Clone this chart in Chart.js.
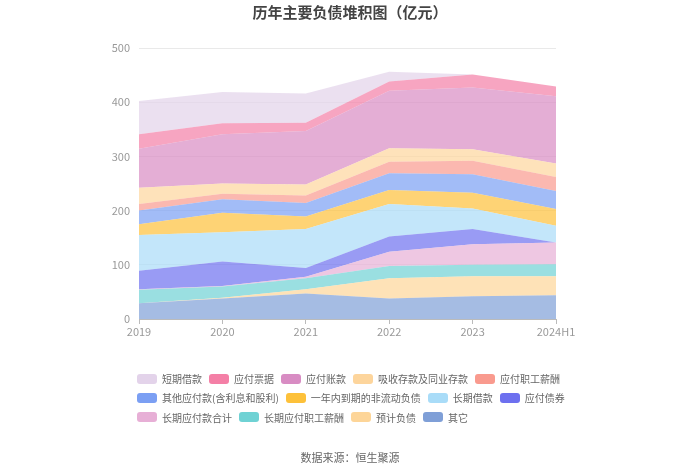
<!DOCTYPE html>
<html>
<head>
<meta charset="utf-8">
<script src="https://cdn.jsdelivr.net/npm/chart.js@4/dist/chart.umd.min.js"></script>
<style>
  html, body { margin: 0; padding: 0; background: #fff; }
  #wrap { position: relative; width: 700px; height: 474px; font-family: "Noto Sans CJK SC", "Noto Sans", sans-serif; }
  #c { position: absolute; left: 0; top: 0; }
  #legend { position: absolute; left: 137px; top: 369px; width: 450px; display: flex; flex-wrap: wrap; }
  .item { display: flex; align-items: center; height: 19.3px; margin-right: 7px; font-size: 10px; color: #666; white-space: nowrap; }
  .box { width: 20px; height: 10px; border-radius: 3px; margin-right: 5px; }
  #source { position: absolute; left: 0; width: 700px; top: 449px; text-align: center; font-size: 11px; color: #666; }
</style>
</head>
<body>
<div id="wrap">
  <canvas id="c" width="700" height="474"></canvas>
  <div id="legend"></div>
  <div id="source">数据来源：恒生聚源</div>
</div>
<script>
// ---- data (values in 亿元) ----
const categories = ['2019', '2020', '2021', '2022', '2023', '2024H1'];
const yTicks = [0, 100, 200, 300, 400, 500];

const shortTermLoans      = [61, 58, 54, 18, 0, 0];      // 短期借款
const notesPayable        = [27, 20, 15, 17, 24, 18];    // 应付票据
const accountsPayable     = [72, 91, 99, 106, 114, 124]; // 应付账款
const deposits            = [30, 19, 20, 25, 21, 25];    // 吸收存款及同业存款
const payrollPayable      = [12, 10, 14, 21, 25, 26];    // 应付职工薪酬
const otherPayables       = [25, 25, 25, 31, 34, 33];    // 其他应付款(含利息和股利)
const currentNonCurrent   = [20, 36, 23, 26, 29, 31];    // 一年内到期的非流动负债
const longTermLoans       = [66, 54, 72, 60, 38, 31];    // 长期借款
const bondsPayable        = [34, 45, 16, 28, 28, 0];     // 应付债券
const longTermPayables    = [1, 1, 3, 26, 38, 40];       // 长期应付款合计
const longTermPayroll     = [25, 21, 20, 23, 21, 22];    // 长期应付职工薪酬
const provisions          = [0, 1, 8, 37, 37, 35];       // 预计负债
const others              = [29, 38, 47, 38, 42, 44];    // 其它

// legend order (top of stack first)
const seriesNames = ['短期借款', '应付票据', '应付账款', '吸收存款及同业存款', '应付职工薪酬',
  '其他应付款(含利息和股利)', '一年内到期的非流动负债', '长期借款', '应付债券',
  '长期应付款合计', '长期应付职工薪酬', '预计负债', '其它'];
const seriesValues = [shortTermLoans, notesPayable, accountsPayable, deposits, payrollPayable,
  otherPayables, currentNonCurrent, longTermLoans, bondsPayable,
  longTermPayables, longTermPayroll, provisions, others];
const seriesColors = ['#e3d3ea', '#f47fa6', '#d88cc3', '#fdd59c', '#f99a8e',
  '#7b9ff3', '#fdc13a', '#a9dcf8', '#6d70ef',
  '#e7afd6', '#6fd2d4', '#fdd598', '#7f9fd7'];

function alpha(hex, a) {
  const r = parseInt(hex.slice(1, 3), 16), g = parseInt(hex.slice(3, 5), 16), b = parseInt(hex.slice(5, 7), 16);
  return `rgba(${r},${g},${b},${a})`;
}

// datasets bottom-up for stacking
const datasets = [];
for (let i = seriesNames.length - 1; i >= 0; i--) {
  datasets.push({
    label: seriesNames[i],
    data: seriesValues[i],
    backgroundColor: alpha(seriesColors[i], 0.7),
    borderColor: 'rgba(0,0,0,0)',
    borderWidth: 0,
    pointRadius: 0,
    tension: 0,
    fill: datasets.length === 0 ? 'origin' : '-1'
  });
}

// HTML legend
const legendEl = document.getElementById('legend');
seriesNames.forEach((n, i) => {
  const it = document.createElement('div');
  it.className = 'item';
  const b = document.createElement('span');
  b.className = 'box';
  b.style.background = seriesColors[i];
  const t = document.createElement('span');
  t.textContent = n;
  it.appendChild(b); it.appendChild(t);
  legendEl.appendChild(it);
});

Chart.defaults.font.family = '"Noto Sans CJK SC", "Noto Sans", sans-serif';

new Chart(document.getElementById('c'), {
  type: 'line',
  data: { labels: categories, datasets },
  options: {
    responsive: false,
    animation: false,
    devicePixelRatio: 1,
    layout: { padding: { left: 0, right: 0, top: 0, bottom: 125 } },
    plugins: {
      legend: { display: false },
      tooltip: { enabled: false },
      title: {
        display: true,
        text: '历年主要负债堆积图（亿元）',
        color: '#444',
        font: { size: 15, weight: 'bold' },
        padding: { top: 3, bottom: 27 }
      }
    },
    scales: {
      x: {
        offset: false,
        grid: { display: true, drawOnChartArea: false, drawTicks: true, tickLength: 5, color: '#bbb' },
        border: { display: true, color: '#bbb' },
        ticks: { color: '#999', font: { size: 11 }, padding: 1, maxRotation: 0, autoSkip: false },
        afterFit: s => { s.height = 30; }
      },
      y: {
        stacked: true,
        min: yTicks[0],
        max: yTicks[yTicks.length - 1],
        afterBuildTicks: s => { s.ticks = yTicks.map(v => ({ value: v })); },
        grid: { color: '#e9e9e9', drawTicks: false },
        border: { display: false },
        ticks: { color: '#999', font: { size: 11 }, padding: 9 },
        afterFit: s => { s.width = 139; }
      },
      yRight: {
        position: 'right',
        display: true,
        min: 0,
        max: 1,
        grid: { display: false, drawTicks: false },
        border: { display: false },
        ticks: { display: false },
        afterFit: s => { s.width = 144; }
      }
    }
  }
});
</script>
</body>
</html>
